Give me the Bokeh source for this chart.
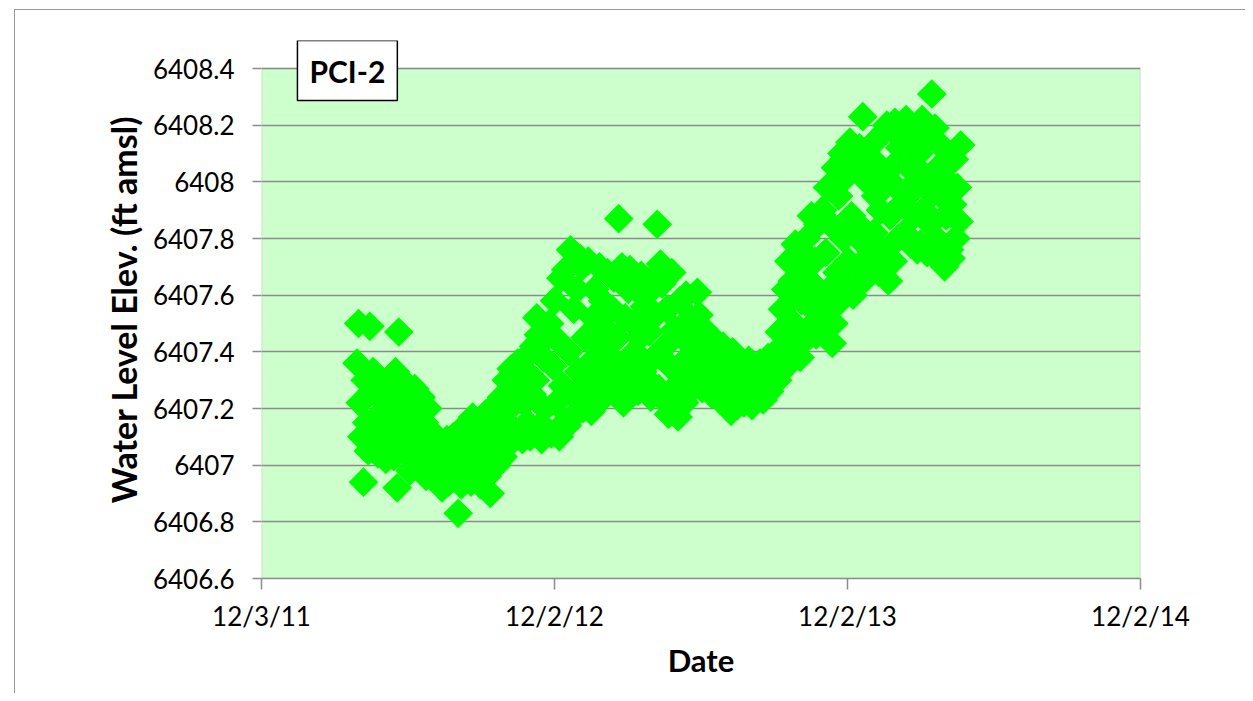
import math
import pandas as pd
from bokeh.plotting import figure
from bokeh.models import ColumnDataSource, FixedTicker, Label, Range1d, BoxAnnotation
from bokeh.embed import file_html
from bokeh.resources import INLINE

# ---------------- data ----------------
well_name = "PCI-2"
x_tick_dates = ["2011-12-03", "2012-12-02", "2013-12-02", "2014-12-02"]
x_tick_labels = ["12/3/11", "12/2/12", "12/2/13", "12/2/14"]
y_ticks = [6406.6, 6406.8, 6407.0, 6407.2, 6407.4, 6407.6, 6407.8, 6408.0, 6408.2, 6408.4]
y_tick_labels = ["6406.6", "6406.8", "6407", "6407.2", "6407.4", "6407.6",
                 "6407.8", "6408", "6408.2", "6408.4"]

first_reading = "2012-03-31"   # readings every 2 days
reading_interval = "2D"

water_level = [
    # 2012-03-31
    6407.36, 6407.50, 6407.22, 6407.10, 6406.94, 6407.30, 6407.15, 6407.05, 6407.49, 6407.26,
    # 2012-04-20
    6407.33, 6407.12, 6407.25, 6407.04, 6407.18, 6407.30, 6407.08, 6407.22, 6407.02, 6407.15,
    # 2012-05-10
    6407.28, 6407.10, 6407.20, 6407.03, 6407.33, 6406.92, 6407.47, 6407.15, 6407.25, 6407.06,
    # 2012-05-30
    6407.29, 6407.05, 6407.18, 6406.98, 6407.24, 6407.10, 6407.27, 6407.01, 6407.14, 6407.21,
    # 2012-06-19
    6407.24, 6407.02, 6407.15, 6406.96, 6407.20, 6407.06, 6407.12, 6406.98, 6407.08, 6407.00,
    # 2012-07-09
    6407.08, 6406.95, 6407.02, 6406.92, 6407.06, 6406.98, 6407.09, 6406.94, 6407.04, 6406.97,
    # 2012-07-29
    6407.10, 6406.96, 6407.04, 6406.83, 6407.12, 6406.93, 6407.07, 6406.99, 6407.01, 6406.95,
    # 2012-08-18
    6407.14, 6406.94, 6407.17, 6407.02, 6406.97, 6407.10, 6407.06, 6406.93, 6407.13, 6407.00,
    # 2012-09-07
    6407.18, 6406.96, 6407.10, 6406.90, 6407.20, 6407.04, 6407.14, 6407.00, 6407.22, 6407.07,
    # 2012-09-27
    6407.24, 6407.03, 6407.15, 6407.30, 6407.07, 6407.20, 6407.34, 6407.10, 6407.27, 6407.12,
    # 2012-10-17
    6407.36, 6407.12, 6407.28, 6407.09, 6407.22, 6407.38, 6407.15, 6407.32, 6407.10, 6407.25,
    # 2012-11-06
    6407.42, 6407.30, 6407.52, 6407.46, 6407.14, 6407.09, 6407.38, 6407.20, 6407.45, 6407.12,
    # 2012-11-26
    6407.50, 6407.11, 6407.35, 6407.58, 6407.22, 6407.44, 6407.10, 6407.66, 6407.28, 6407.15,
    # 2012-12-16
    6407.69, 6407.14, 6407.40, 6407.76, 6407.25, 6407.55, 6407.18, 6407.62, 6407.33, 6407.73,
    # 2013-01-05
    6407.70, 6407.20, 6407.45, 6407.28, 6407.72, 6407.36, 6407.19, 6407.52, 6407.62, 6407.24,
    # 2013-01-25
    6407.42, 6407.70, 6407.23, 6407.58, 6407.32, 6407.48, 6407.68, 6407.26, 6407.38, 6407.55,
    # 2013-02-14
    6407.66, 6407.25, 6407.45, 6407.87, 6407.35, 6407.70, 6407.22, 6407.52, 6407.30, 6407.62,
    # 2013-03-06
    6407.69, 6407.28, 6407.50, 6407.40, 6407.62, 6407.26, 6407.45, 6407.67, 6407.33, 6407.56,
    # 2013-03-26
    6407.60, 6407.30, 6407.47, 6407.24, 6407.66, 6407.38, 6407.53, 6407.85, 6407.27, 6407.71,
    # 2013-04-15
    6407.64, 6407.23, 6407.42, 6407.55, 6407.18, 6407.35, 6407.68, 6407.27, 6407.48, 6407.20,
    # 2013-05-05
    6407.17, 6407.58, 6407.32, 6407.45, 6407.22, 6407.60, 6407.38, 6407.26, 6407.52, 6407.30,
    # 2013-05-25
    6407.45, 6407.30, 6407.61, 6407.53, 6407.38, 6407.27, 6407.48, 6407.34, 6407.42, 6407.31,
    # 2013-06-14
    6407.40, 6407.25, 6407.35, 6407.44, 6407.28, 6407.38, 6407.23, 6407.32, 6407.42, 6407.27,
    # 2013-07-04
    6407.38, 6407.22, 6407.33, 6407.19, 6407.40, 6407.27, 6407.35, 6407.21, 6407.30, 6407.25,
    # 2013-07-24
    6407.36, 6407.22, 6407.30, 6407.25, 6407.37, 6407.28, 6407.21, 6407.33, 6407.26, 6407.31,
    # 2013-08-13
    6407.25, 6407.36, 6407.30, 6407.23, 6407.34, 6407.28, 6407.38, 6407.26, 6407.32, 6407.29,
    # 2013-09-02
    6407.32, 6407.40, 6407.30, 6407.47, 6407.36, 6407.55, 6407.34, 6407.62, 6407.42, 6407.72,
    # 2013-09-22
    6407.40, 6407.65, 6407.50, 6407.78, 6407.45, 6407.70, 6407.38, 6407.58, 6407.75, 6407.44,
    # 2013-10-12
    6407.80, 6407.48, 6407.65, 6407.88, 6407.55, 6407.72, 6407.46, 6407.85, 6407.60, 6407.52,
    # 2013-11-01
    6407.90, 6407.55, 6407.75, 6407.98, 6407.62, 6407.85, 6407.43, 6407.50, 6408.05, 6407.68,
    # 2013-11-21
    6407.95, 6407.58, 6408.10, 6407.80, 6407.65, 6408.02, 6407.72, 6408.14, 6407.88, 6407.60,
    # 2013-12-11
    6408.05, 6407.64, 6407.85, 6408.12, 6407.70, 6408.23, 6407.78, 6407.66, 6408.00, 6407.74,
    # 2013-12-31
    6407.70, 6408.08, 6407.82, 6407.95, 6408.15, 6407.68, 6407.90, 6408.02, 6407.75, 6408.18,
    # 2014-01-20
    6408.20, 6407.65, 6407.88, 6408.05, 6407.72, 6408.21, 6407.98, 6407.80, 6408.12, 6407.92,
    # 2014-02-09
    6408.15, 6407.82, 6408.22, 6407.95, 6408.05, 6407.78, 6408.18, 6407.88, 6408.00, 6407.76,
    # 2014-03-01
    6408.10, 6407.78, 6408.22, 6407.90, 6408.02, 6407.75, 6408.15, 6407.85, 6408.31, 6407.96,
    # 2014-03-21
    6408.19, 6407.80, 6408.05, 6407.72, 6407.95, 6408.12, 6407.70, 6407.88, 6408.00, 6407.76,
    # 2014-04-10
    6407.73, 6407.92, 6408.08, 6407.80, 6407.98, 6407.86, 6408.13,
]

reading_dates = pd.date_range(first_reading, periods=len(water_level), freq=reading_interval)

# ---------------- figure ----------------
FONT = "Lato"
GRAY = "#8c8c8c"

def ms(d):
    return pd.Timestamp(d).value / 1e6

x_ticks_ms = [ms(d) for d in x_tick_dates]

# the frame is 28 px taller than the green plot area so the name box fits inside it
PLOT_H, EXTRA_TOP = 510, 28
y_span = y_ticks[-1] - y_ticks[0]
y_top = y_ticks[-1] + EXTRA_TOP * y_span / PLOT_H

p = figure(
    width=1231, height=684,
    x_axis_type="datetime",
    x_range=Range1d(x_ticks_ms[0], x_ticks_ms[-1]),
    y_range=Range1d(y_ticks[0], y_top),
    output_backend="svg", toolbar_location=None,
    min_border_left=246, min_border_top=58 - EXTRA_TOP, min_border_right=106, min_border_bottom=116,
    background_fill_color="white", border_fill_color="white",
    outline_line_color=None,
    margin=(9, 0, 0, 14),
    styles={"border-left": "1px solid #9a9a9a", "border-top": "1px solid #9a9a9a"},
)

# green plot area with its grey border
p.add_layout(BoxAnnotation(
    left=x_ticks_ms[0], right=x_ticks_ms[-1], bottom=y_ticks[0], top=y_ticks[-1],
    fill_color="#ccffcc", fill_alpha=1.0, line_color=GRAY, line_width=1.5, level="image",
))

src = ColumnDataSource(dict(date=reading_dates, level=water_level))
p.scatter("date", "level", source=src, marker="square", size=21, angle=math.pi / 4,
          fill_color="#00ff00", line_color=None)

# axes
p.xaxis.ticker = FixedTicker(ticks=x_ticks_ms)
p.xaxis.major_label_overrides = {int(t): lab for t, lab in zip(x_ticks_ms, x_tick_labels)}
p.yaxis.ticker = FixedTicker(ticks=y_ticks)
p.yaxis.major_label_overrides = {t: lab for t, lab in zip(y_ticks, y_tick_labels)}

for ax in (p.xaxis[0], p.yaxis[0]):
    ax.axis_line_color = GRAY
    ax.axis_line_width = 1.5
    ax.major_tick_line_color = GRAY
    ax.major_tick_line_width = 1.5
    ax.minor_tick_line_color = None
    ax.major_tick_in = 0
    ax.major_label_text_font = FONT
    ax.major_label_text_font_size = "26px"
    ax.major_label_text_color = "#000000"
    ax.axis_label_text_font = FONT
    ax.axis_label_text_font_style = "bold"
    ax.axis_label_text_color = "#000000"

p.yaxis.axis_line_color = None
p.yaxis.axis_label_text_font_size = "34px"
p.xaxis.axis_label_text_font_size = "31px"
p.yaxis.major_tick_out = 9
p.xaxis.major_tick_out = 11
p.yaxis.major_label_standoff = 18
p.xaxis.major_label_standoff = 10
p.yaxis.axis_label = "Water Level Elev. (ft amsl)"
p.xaxis.axis_label = "Date"
p.yaxis.axis_label_standoff = 6
p.xaxis.axis_label_standoff = 6

p.xgrid.grid_line_color = None
p.ygrid.grid_line_color = GRAY
p.ygrid.grid_line_width = 1.5

# well name box
p.add_layout(Label(
    x=ms("2012-03-19"), y=6408.287, text=well_name,
    text_font=FONT, text_font_size="30px", text_font_style="bold",
    text_color="#000000", text_align="center", text_baseline="bottom",
    background_fill_color="white", border_line_color="#000000", border_line_width=1.5,
    padding=12,
))

open("out.html", "w").write(file_html(p, INLINE))
